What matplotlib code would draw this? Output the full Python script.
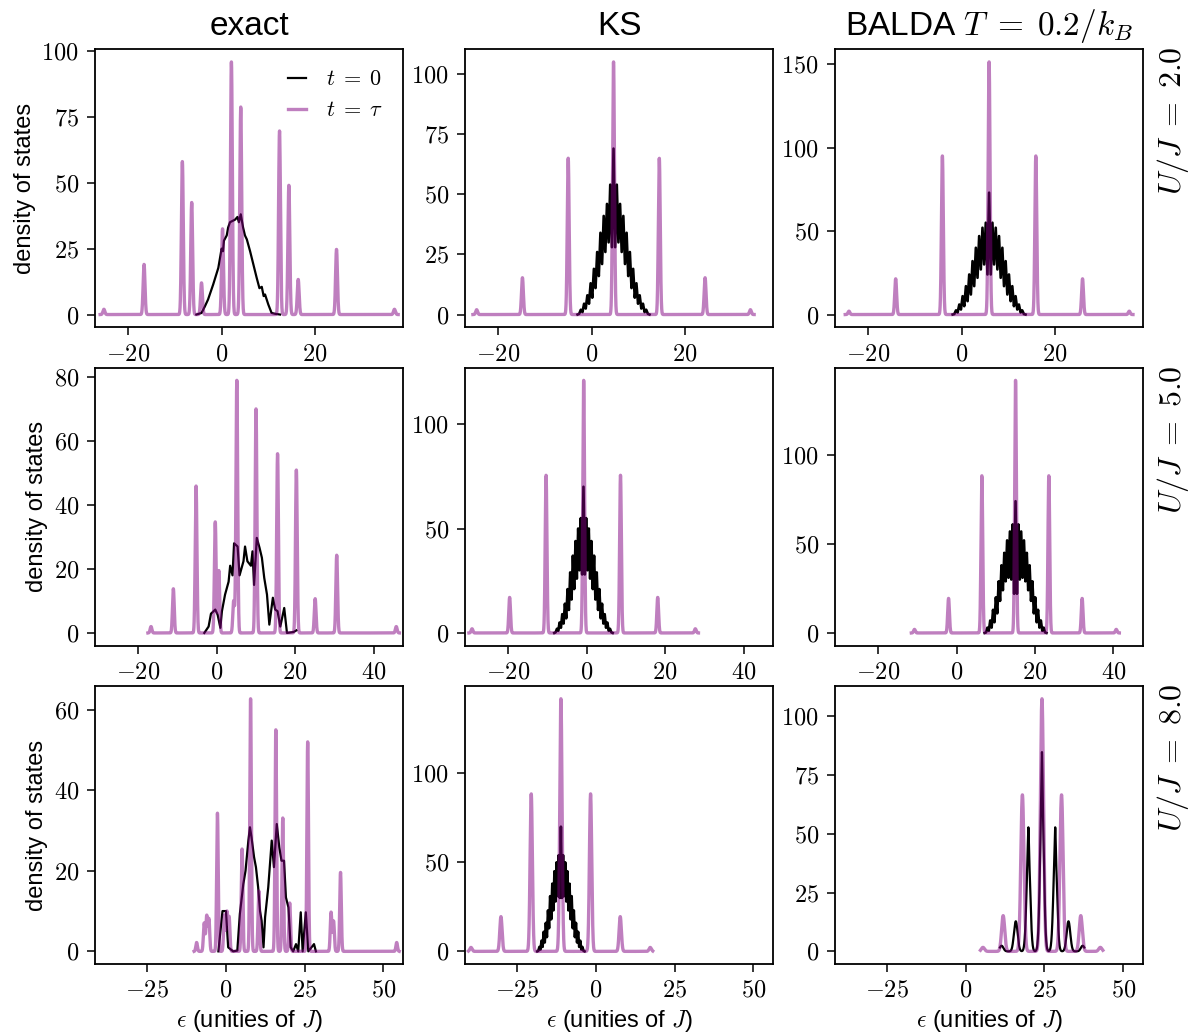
import numpy as np
import matplotlib
matplotlib.use("Agg")
import matplotlib.pyplot as plt
from matplotlib.ticker import MultipleLocator, FuncFormatter

plt.rcParams.update({
    "font.family": ["Liberation Sans", "DejaVu Sans"],
    "mathtext.fontset": "cm",
    "axes.linewidth": 1.3,
    "xtick.direction": "out",
    "ytick.direction": "out",
    "xtick.major.size": 5.5,
    "ytick.major.size": 5.5,
    "xtick.major.width": 1.1,
    "ytick.major.width": 1.1,
    "xtick.major.pad": 6,
    "ytick.major.pad": 6,
})

methods = ["exact", "KS", r"BALDA $T\;=\;0.2/k_B$"]
interactions = [2.0, 5.0, 8.0]

# ---------------- t = tau : peak centres / heights of the spectral lines ----------------
exact_u2_tau_eps = [-25.2, -16.6, -8.4, -6.4, -4.3, 0.2, 2.1, 4.1, 12.4, 14.4, 16.4, 24.6, 37.0]
exact_u2_tau_dos = [2.0, 19.0, 58.0, 42.5, 12.0, 32.5, 95.8, 78.7, 69.6, 49.0, 13.3, 24.7, 2.0]
ks_u2_tau_eps = [-24.6, -14.8, -5.0, 4.7, 14.5, 24.3, 34.0]
ks_u2_tau_dos = [2.0, 15.3, 65.0, 105.1, 65.0, 15.3, 2.0]
balda_u2_tau_eps = [-24.1, -14.1, -4.1, 5.9, 15.9, 25.9, 35.9]
balda_u2_tau_dos = [2.0, 21.4, 95.0, 151.4, 95.0, 21.4, 2.0]

exact_u5_tau_eps = [-16.8, -11.1, -5.3, -0.4, 0.5, 4.3, 5.1, 10.0, 15.5, 20.3, 25.1, 30.6, 45.8]
exact_u5_tau_dos = [2.0, 13.8, 45.9, 34.7, 19.5, 10.0, 78.9, 70.0, 56.0, 50.9, 10.7, 24.3, 2.0]
ks_u5_tau_eps = [-29.3, -19.7, -10.4, -0.8, 8.6, 18.1, 27.7]
ks_u5_tau_dos = [2.0, 17.0, 75.5, 121.0, 75.5, 17.0, 2.0]
balda_u5_tau_eps = [-10.8, -2.1, 6.4, 15.0, 23.5, 32.0, 40.7]
balda_u5_tau_dos = [2.0, 19.4, 88.3, 141.9, 88.3, 19.4, 2.0]

exact_u8_tau_eps = [-9.2, -6.8, -6.0, -5.3, -2.6, -0.4, 0.4, 1.1, 5.2, 7.9, 10.5, 15.9, 18.1,
                    20.3, 26.0, 33.4, 34.2, 36.4, 54.2]
exact_u8_tau_dos = [2.2, 7.0, 8.8, 8.0, 34.3, 9.0, 9.8, 8.5, 25.4, 62.7, 15.0, 55.0, 33.1,
                    12.0, 52.0, 9.7, 7.5, 19.6, 2.2]
ks_u8_tau_eps = [-39.5, -30.0, -20.4, -11.0, -1.6, 7.8, 17.3]
ks_u8_tau_dos = [2.2, 19.5, 88.4, 141.8, 88.4, 19.5, 2.2]
balda_u8_tau_eps = [5.5, 11.9, 18.0, 24.2, 30.4, 36.5, 42.7]
balda_u8_tau_dos = [1.7, 15.2, 66.6, 107.5, 66.6, 15.2, 1.7]

# ---------------- t = 0 : ground-state densities of states ----------------
exact_u2_t0_eps = [-5.4, -4.3, -3.6, -2.9, -1.8, -0.7, 0.0, 0.3, 0.5, 1.1, 1.4, 1.8, 2.9, 3.4,
                   3.7, 4.1, 4.6, 5.0, 5.4, 6.1, 6.8, 7.5, 8.1, 8.6, 9.0, 9.3, 10.0, 10.7,
                   11.4, 12.5]
exact_u2_t0_dos = [0, 0.6, 3, 5.7, 11.4, 17.7, 25, 24, 28, 30, 33, 35, 36, 37,
                   35, 38, 33, 30, 28.5, 24, 19, 14, 10, 10.5, 7, 7.6, 3.8, 0.6,
                   0.3, 0]

exact_u5_t0_eps = [-3.2, -2.1, -1.5, -0.4, 0.2, 0.9, 1.3, 2.1, 3.0, 3.4, 4.0, 4.4, 5.3, 5.8,
                   6.8, 7.2, 7.8, 8.7, 9.1, 9.5, 10.2, 10.9, 11.5, 12.1, 12.8, 13.4, 14.3,
                   14.9, 15.5, 16.2, 17.2, 17.9, 19.6, 20.3]
exact_u5_t0_dos = [0, 2, 6, 7.3, 5.7, 1.6, 6.8, 12, 16, 21, 18, 28, 27, 18,
                   22.4, 27, 22.4, 21, 25.5, 15, 29.7, 26.6, 23.5, 17.2, 12, 2.6, 11,
                   7.3, 6.8, 2, 7.8, 0, 0.3, 0.8]

exact_u8_t0_eps = [-2.3, -1.0, 0.1, 0.8, 2.4, 3.7, 4.5, 5.6, 6.3, 7.2, 7.7, 8.2, 9.0, 9.6,
                   10.3, 10.9, 11.4, 12.0, 12.5, 13.5, 14.6, 15.3, 16.2, 17.0, 17.7, 18.5,
                   19.1, 19.9, 20.6, 21.4, 22.3, 23.0, 23.8, 24.4, 25.4, 26.2, 28.0, 28.6]
exact_u8_t0_dos = [0, 10, 10, 1, 0, 0.2, 9.3, 16.7, 20, 27.5, 30.8, 28.3, 23.4, 20.9,
                   15.9, 10, 7.6, 1, 8.5, 15.9, 27.5, 20.9, 31.6, 25.8, 22.5, 22.5,
                   13.4, 10.9, 1, 0, 1.8, 0, 9.7, 0, 9.7, 0, 1.8, 0]

# KS / BALDA ground states: closely spaced levels, listed level by level
ks_u2_t0_range = (-3.0, 12.4)
ks_u2_t0_dos = [0, 0.3, 2, 1, 4.5, 2.5, 8, 4.5, 13, 7, 19, 11, 26, 16, 34, 21, 41, 26, 46, 30,
                54, 28, 69, 28, 54, 30, 46, 26, 41, 21, 34, 16, 26, 11, 19, 7, 13, 4.5, 8,
                2.5, 4.5, 1, 2, 0.3, 0]
balda_u2_t0_range = (-1.9, 13.7)
balda_u2_t0_dos = [0, 0.3, 2.5, 1.2, 6, 3, 11, 5, 17, 8, 24, 12, 32, 17, 40, 22, 47, 27, 52, 30,
                   55, 24, 73, 24, 55, 30, 52, 27, 47, 22, 40, 17, 32, 12, 24, 8, 17, 5, 11,
                   3, 6, 1.2, 2.5, 0.3, 0]
ks_u5_t0_range = (-8.3, 6.6)
ks_u5_t0_dos = [0, 0.3, 2, 1, 5, 2.5, 9, 4.5, 14, 7, 21, 11, 29, 16, 37, 21, 44, 26, 50, 30,
                55, 28, 70, 28, 55, 30, 50, 26, 44, 21, 37, 16, 29, 11, 21, 7, 14, 4.5, 9,
                2.5, 5, 1, 2, 0.3, 0]
balda_u5_t0_range = (7.1, 22.9)
balda_u5_t0_dos = [0, 0.3, 3, 1.2, 7, 3, 13, 6, 20, 11, 29, 18, 38, 24, 45, 29, 52, 31, 57, 30,
                   61, 22, 74, 22, 61, 30, 57, 31, 52, 29, 45, 24, 38, 18, 29, 11, 20, 6, 13,
                   3, 7, 1.2, 3, 0.3, 0]
ks_u8_t0_range = (-18.5, -3.5)
ks_u8_t0_dos = [0, 0.3, 2.5, 1, 6, 2.5, 11, 5, 16, 8, 23, 13, 31, 18, 38, 23, 45, 28, 50, 31,
                54, 30, 70, 30, 54, 31, 50, 28, 45, 23, 38, 18, 31, 13, 23, 8, 16, 5, 11,
                2.5, 6, 1, 2.5, 0.3, 0]
# BALDA U/J = 8 ground state: well separated lines (broad part + sharp tip)
balda_u8_t0_eps = [11.4, 15.9, 19.9, 24.2, 28.4, 32.6, 37.1]
balda_u8_t0_dos = [2.4, 12.8, 43.0, 68.0, 43.0, 12.8, 2.4]
balda_u8_t0_tip = [0.0, 0.0, 9.8, 16.8, 9.8, 0.0, 0.0]
balda_u8_t0_range = (10.9, 37.6)

# Gaussian broadening used for each panel's spectral lines
line_width = [[0.2, 0.2, 0.2], [0.22, 0.22, 0.22], [0.25, 0.36, 0.5]]

row_xlim = [(-27.1, 38.9), (-31.1, 47.6), (-41.4, 56.3)]
row_xstep = [20, 20, 25]
panel_ystep = [[25, 25, 50], [20, 50, 50], [20, 50, 25]]


def broadened(centres, heights, sigma, lo, hi, n=4000):
    eps = np.linspace(lo, hi, n)
    dos = np.zeros_like(eps)
    for c, h in zip(centres, heights):
        dos += h * np.exp(-0.5 * ((eps - c) / sigma) ** 2)
    return eps, dos


tau_data = [
    [(exact_u2_tau_eps, exact_u2_tau_dos), (ks_u2_tau_eps, ks_u2_tau_dos), (balda_u2_tau_eps, balda_u2_tau_dos)],
    [(exact_u5_tau_eps, exact_u5_tau_dos), (ks_u5_tau_eps, ks_u5_tau_dos), (balda_u5_tau_eps, balda_u5_tau_dos)],
    [(exact_u8_tau_eps, exact_u8_tau_dos), (ks_u8_tau_eps, ks_u8_tau_dos), (balda_u8_tau_eps, balda_u8_tau_dos)],
]


def ground_state(row, col):
    if col == 0:
        eps, dos = [(exact_u2_t0_eps, exact_u2_t0_dos), (exact_u5_t0_eps, exact_u5_t0_dos),
                    (exact_u8_t0_eps, exact_u8_t0_dos)][row]
        return np.asarray(eps), np.asarray(dos)
    if (row, col) == (2, 2):
        eps, broad = broadened(balda_u8_t0_eps, balda_u8_t0_dos, 0.58, *balda_u8_t0_range)
        _, tip = broadened(balda_u8_t0_eps, balda_u8_t0_tip, 0.13, *balda_u8_t0_range)
        return eps, broad + tip
    rng, dos = {
        (0, 1): (ks_u2_t0_range, ks_u2_t0_dos),
        (0, 2): (balda_u2_t0_range, balda_u2_t0_dos),
        (1, 1): (ks_u5_t0_range, ks_u5_t0_dos),
        (1, 2): (balda_u5_t0_range, balda_u5_t0_dos),
        (2, 1): (ks_u8_t0_range, ks_u8_t0_dos),
    }[(row, col)]
    return np.linspace(rng[0], rng[1], len(dos)), np.asarray(dos)


math_fmt = FuncFormatter(lambda v, p: r"$%g$" % v)

fig, axes = plt.subplots(3, 3, figsize=(11.95, 10.36), dpi=100)
fig.subplots_adjust(left=0.0795, right=0.9567, bottom=0.0695, top=0.9524,
                    wspace=0.2, hspace=0.146)

for r in range(3):
    for c in range(3):
        ax = axes[r, c]
        eps0, dos0 = ground_state(r, c)
        lw0 = 1.6 if (c == 0 or (r, c) == (2, 2)) else 1.9
        ax.plot(eps0, dos0, color="black", lw=lw0, label=r"$t\;=\;0$")
        centres, heights = tau_data[r][c]
        eps1, dos1 = broadened(centres, heights, line_width[r][c],
                               centres[0] - 0.8, centres[-1] + 0.8)
        ax.plot(eps1, dos1, color="purple", alpha=0.5, lw=2.4, label=r"$t\;=\;\tau$")

        ax.set_xlim(*row_xlim[r])
        ax.xaxis.set_major_locator(MultipleLocator(row_xstep[r]))
        ax.yaxis.set_major_locator(MultipleLocator(panel_ystep[r][c]))
        ax.xaxis.set_major_formatter(math_fmt)
        ax.yaxis.set_major_formatter(math_fmt)
        ax.tick_params(labelsize=17.5)

        if r == 0:
            ax.set_title(methods[c], fontsize=24, pad=10)
        if c == 0:
            ax.set_ylabel("density of states", fontsize=17)
        if r == 2:
            ax.set_xlabel(r"$\epsilon$ (unities of $J$)", fontsize=17)
        if c == 2:
            ax.text(1.095, 1.01, r"$U/J\;=\;%.1f$" % interactions[r], transform=ax.transAxes,
                    rotation=90, ha="center", va="top", fontsize=23)

axes[0, 0].legend(loc="upper right", fontsize=16, frameon=False, handlelength=0.8,
                  handletextpad=0.9, labelspacing=0.45)

fig.savefig("out.png", dpi=100)
